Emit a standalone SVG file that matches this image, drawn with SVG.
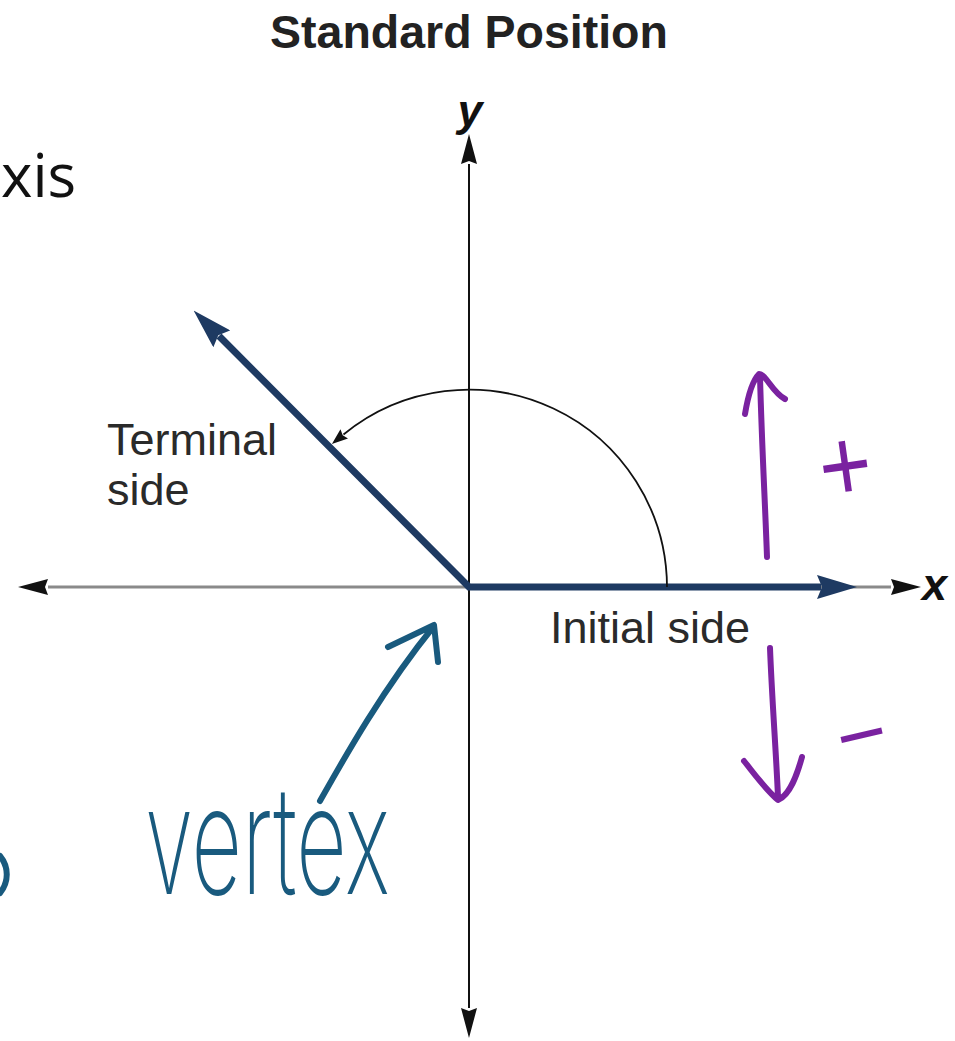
<svg xmlns="http://www.w3.org/2000/svg" width="955" height="1041" viewBox="0 0 955 1041">
<style>
.lbl{font-family:"Liberation Sans",Arial,sans-serif;font-size:45px;fill:#2a2a2a}
.title{font-family:"Liberation Sans",Arial,sans-serif;font-size:46.5px;font-weight:bold;fill:#222}
.axlbl{font-family:"Liberation Sans",Arial,sans-serif;font-size:45px;font-weight:bold;font-style:italic;fill:#111}
.purple{fill:none;stroke:#7a22a0;stroke-width:6;stroke-linecap:round;stroke-linejoin:round}
.teal{fill:none;stroke:#195a7e;stroke-width:6;stroke-linecap:round;stroke-linejoin:round}
.hand{font-family:"Liberation Sans",Arial,sans-serif;fill:#7a22a0}
</style>
<defs>
<marker id="axArrow" markerUnits="userSpaceOnUse" viewBox="0 0 30 16" markerWidth="30" markerHeight="16" refX="0" refY="8" orient="auto-start-reverse">
<path d="M0,0 L30,8 L0,16 L3,8 z" fill="#111"/>
</marker>
<marker id="navyArrow" markerUnits="userSpaceOnUse" viewBox="0 0 40 24" markerWidth="40" markerHeight="24" refX="4" refY="12" orient="auto-start-reverse">
<path d="M0,0 L40,12 L0,24 L5,12 z" fill="#1e3a62"/>
</marker>
<marker id="arcArrow" markerUnits="userSpaceOnUse" viewBox="0 0 16 12" markerWidth="16" markerHeight="12" refX="1" refY="6" orient="auto">
<path d="M0,0 L16,6 L0,12 L2,6 z" fill="#111"/>
</marker>
</defs>

<g id="title"><text class="title" x="469" y="48" text-anchor="middle">Standard Position</text></g>
<g id="axis-fragment"><text x="1" y="197" font-family="'Open Sans','Noto Sans',sans-serif" font-size="60" fill="#111">xis</text></g>

<g id="connectors">
<line id="x-axis" x1="48" y1="587" x2="891" y2="587" stroke="#8a8a8a" stroke-width="3" marker-start="url(#axArrow)" marker-end="url(#axArrow)"/>
<line id="y-axis" x1="469" y1="164" x2="469" y2="1008" stroke="#111" stroke-width="2" marker-start="url(#axArrow)" marker-end="url(#axArrow)"/>
<polyline id="sides" points="219,336 469,587 821,587" fill="none" stroke="#1e3a62" stroke-width="7" stroke-linejoin="miter" marker-start="url(#navyArrow)" marker-end="url(#navyArrow)"/>
<path id="angle-arc" d="M667,587 A198,198 0 0 0 343.5,434.5" fill="none" stroke="#111" stroke-width="1.8" marker-end="url(#arcArrow)"/>
<path id="vertex-arrow" class="teal" d="M320,801 C342,762 382,690 434,626 M388,647 L434,625 L438,662"/>
<path id="plus-arrow" class="purple" d="M767,557 C765,500 762,450 760,377 M745,414 C748,396 752,381 759,374 C766,374 772,392 785,399"/>
<path id="minus-arrow" class="purple" d="M770,648 C772,700 776,750 778,797 M744,761 C756,776 766,790 778,800 C790,795 797,775 802,757"/>
<path id="left-mark" class="teal" d="M0,856 C9,867 9,882 0,893" stroke-width="5"/>
</g>

<g id="label-y"><text class="axlbl" x="470" y="126" text-anchor="middle">y</text></g>
<g id="label-x"><text class="axlbl" x="922" y="600">x</text></g>
<g id="terminal-side"><text class="lbl" x="107" y="455">Terminal</text><text class="lbl" x="107" y="505">side</text></g>
<g id="initial-side"><text class="lbl" x="550" y="643">Initial side</text></g>
<g id="vertex"><text x="145" y="894" font-family="Inter,'Noto Sans',sans-serif" font-weight="200" font-size="150" fill="#195a7e" textLength="245" lengthAdjust="spacingAndGlyphs">vertex</text></g>
<g id="plus"><text class="hand" x="845" y="463" text-anchor="middle" font-size="90" transform="rotate(-8 845 465) translate(845 465) scale(1 1.15) translate(-845 -465)" dy="33">+</text></g>
<g id="minus"><text class="hand" x="861" y="764" text-anchor="middle" font-size="86" transform="rotate(-13 861 733)">−</text></g>
</svg>
